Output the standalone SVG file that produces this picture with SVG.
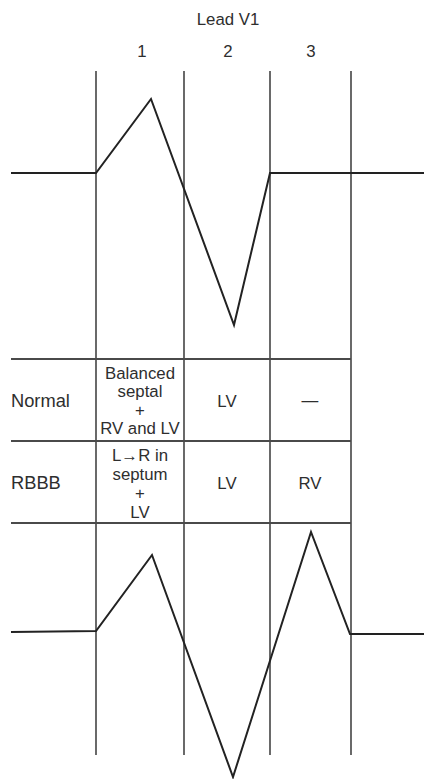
<svg xmlns="http://www.w3.org/2000/svg" width="424" height="779" viewBox="0 0 424 779">
<style>
  .grid { stroke: #2a2a2a; stroke-width: 1.4; fill: none; }
  .row { stroke: #4a4a4a; stroke-width: 1.8; fill: none; }
  .wave { stroke: #222; stroke-width: 2; fill: none; stroke-linejoin: miter; }
  text { font-family: "Liberation Sans", Arial, sans-serif; fill: #2e2e2e; font-size: 16.8px; }
  .c { text-anchor: middle; }
  .lbl { font-size: 18.3px; }
</style>
<rect width="424" height="779" fill="#fff"/>
<g id="title">
  <text class="c" x="228" y="25">Lead V1</text>
  <text class="c" x="142" y="57">1</text>
  <text class="c" x="228" y="57">2</text>
  <text class="c" x="311" y="57">3</text>
</g>
<g id="grid">
  <line class="grid" x1="96" y1="71" x2="96" y2="755"/>
  <line class="grid" x1="184" y1="71" x2="184" y2="755"/>
  <line class="grid" x1="270" y1="71" x2="270" y2="755"/>
  <line class="grid" x1="351" y1="71" x2="351" y2="755"/>
  <line class="row" x1="11" y1="359" x2="351" y2="359"/>
  <line class="row" x1="11" y1="441" x2="351" y2="441"/>
  <line class="row" x1="11" y1="523" x2="351" y2="523"/>
</g>
<g id="wave-normal">
  <polyline class="wave" points="11,173 96,173 151,99 234,325 270,173 424,173"/>
</g>
<g id="row-normal">
  <text class="lbl" x="11" y="407">Normal</text>
  <text class="c" x="140" y="379">Balanced</text>
  <text class="c" x="140" y="397">septal</text>
  <text class="c" x="140" y="416">+</text>
  <text class="c" x="140" y="434">RV and LV</text>
  <text class="c" x="227" y="407">LV</text>
  <text class="c" x="310" y="406">—</text>
</g>
<g id="row-rbbb">
  <text class="lbl" x="11" y="489">RBBB</text>
  <text class="c" x="140" y="461">L→R in</text>
  <text class="c" x="140" y="480">septum</text>
  <text class="c" x="140" y="499">+</text>
  <text class="c" x="140" y="518">LV</text>
  <text class="c" x="227" y="489">LV</text>
  <text class="c" x="310" y="489">RV</text>
</g>
<g id="wave-rbbb">
  <polyline class="wave" points="11,632 96,631 152,555 233,777 311,532 350,634 424,634"/>
</g>
</svg>
